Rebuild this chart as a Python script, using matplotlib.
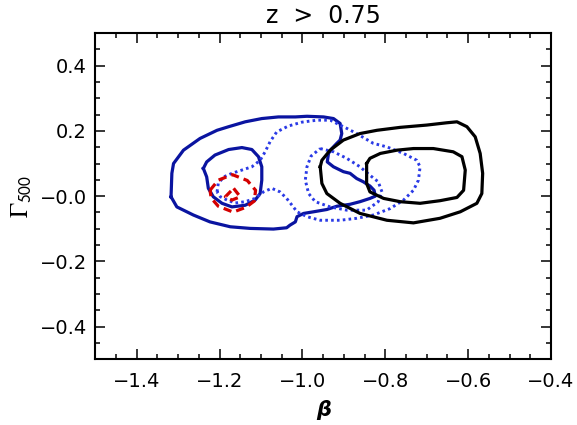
import matplotlib
matplotlib.use('Agg')
import matplotlib.pyplot as plt
from matplotlib.ticker import MultipleLocator, FixedLocator, FixedFormatter

plt.rcParams['font.family'] = ['DejaVu Sans']
plt.rcParams['mathtext.fontset'] = 'stix'

# contour vertices (beta, Gamma_500)
blue_outer_x = [-1.317, -1.315, -1.311, -1.287, -1.247, -1.206, -1.178, -1.138, -1.098, -1.058, -1.017, -0.989,
                -0.949, -0.925, -0.909, -0.905, -0.909, -0.917, -0.929, -0.937, -0.940, -0.925, -0.901, -0.885,
                -0.869, -0.853, -0.837, -0.827, -0.824, -0.837, -0.861, -0.885, -0.917, -0.941, -0.973, -0.997,
                -1.013, -1.017, -1.030, -1.038, -1.070, -1.126, -1.174, -1.223, -1.263, -1.303]
blue_outer_y = [-0.002, 0.070, 0.100, 0.141, 0.177, 0.202, 0.213, 0.228, 0.238, 0.243, 0.243, 0.245,
                0.243, 0.238, 0.223, 0.192, 0.172, 0.162, 0.146, 0.131, 0.105, 0.090, 0.075, 0.070,
                0.054, 0.044, 0.031, 0.018, 0.000, -0.007, -0.017, -0.025, -0.031, -0.041, -0.048, -0.053,
                -0.063, -0.079, -0.089, -0.097, -0.101, -0.099, -0.094, -0.079, -0.058, -0.033]

blue_inner_x = [-1.239, -1.231, -1.211, -1.178, -1.146, -1.122, -1.106, -1.098, -1.098, -1.102, -1.114,
                -1.138, -1.170, -1.194, -1.215, -1.227, -1.231]
blue_inner_y = [0.085, 0.105, 0.126, 0.143, 0.149, 0.143, 0.121, 0.090, 0.049, 0.008, -0.012,
                -0.028, -0.033, -0.022, -0.002, 0.024, 0.059]

dot_outer_x = [-1.206, -1.203, -1.190, -1.170, -1.146, -1.122, -1.102, -1.090, -1.078, -1.062, -1.034, -1.001,
               -0.965, -0.933, -0.909, -0.893, -0.869, -0.829, -0.796, -0.756, -0.724, -0.716, -0.720, -0.732,
               -0.756, -0.788, -0.829, -0.869, -0.909, -0.957, -0.989, -1.013, -1.025, -1.038, -1.054, -1.074,
               -1.094, -1.114, -1.138, -1.162, -1.182, -1.198]
dot_outer_y = [0.013, 0.039, 0.059, 0.070, 0.080, 0.090, 0.110, 0.136, 0.167, 0.197, 0.215, 0.227,
               0.233, 0.233, 0.218, 0.208, 0.192, 0.162, 0.151, 0.131, 0.110, 0.090, 0.049, 0.018,
               -0.012, -0.038, -0.058, -0.068, -0.074, -0.074, -0.063, -0.048, -0.028, -0.007, 0.013, 0.024,
               0.013, -0.007, -0.017, -0.021, -0.012, -0.002]

dot_inner_x = [-0.957, -0.925, -0.893, -0.861, -0.837, -0.817, -0.808, -0.817, -0.845, -0.893, -0.933,
               -0.969, -0.985, -0.993, -0.989, -0.979]
dot_inner_y = [0.146, 0.136, 0.116, 0.090, 0.064, 0.044, 0.013, -0.017, -0.043, -0.043, -0.033,
               -0.017, 0.008, 0.049, 0.090, 0.123]

black_outer_x = [-0.957, -0.953, -0.941, -0.909, -0.861, -0.796, -0.732, -0.668, -0.619, -0.579, -0.567, -0.565,
                 -0.571, -0.583, -0.603, -0.627, -0.652, -0.700, -0.764, -0.820, -0.861, -0.901, -0.933, -0.953]
black_outer_y = [0.090, 0.039, 0.008, -0.022, -0.053, -0.074, -0.082, -0.068, -0.048, -0.022, 0.008, 0.070,
                 0.131, 0.182, 0.213, 0.228, 0.225, 0.218, 0.211, 0.202, 0.192, 0.172, 0.141, 0.110]

black_inner_x = [-0.845, -0.845, -0.837, -0.804, -0.764, -0.716, -0.668, -0.627, -0.611, -0.607, -0.615,
                 -0.636, -0.684, -0.732, -0.772, -0.812, -0.837]
black_inner_y = [0.100, 0.039, 0.013, -0.007, -0.017, -0.022, -0.014, -0.004, 0.018, 0.080, 0.121,
                 0.136, 0.146, 0.146, 0.141, 0.131, 0.116]

red_outer_x = [-1.223, -1.203, -1.169, -1.133, -1.113, -1.116, -1.136, -1.167, -1.203, -1.220]
red_outer_y = [0.018, 0.049, 0.066, 0.048, 0.018, -0.015, -0.034, -0.049, -0.031, -0.006]

red_inner_x = [-1.166, -1.150, -1.170, -1.186]
red_inner_y = [0.024, -0.002, -0.012, -0.002]

x_ticks = [-1.4, -1.2, -1.0, -0.8, -0.6, -0.4]
x_ticklabels = ['\u22121.4', '\u22121.2', '\u22121.0', '\u22120.8', '\u22120.6', '\u22120.4']
y_ticks = [0.4, 0.2, 0.0, -0.2, -0.4]
y_ticklabels = ['0.4', '0.2', '\u22120.0', '\u22120.2', '\u22120.4']


def closed(xs, ys):
    return xs + xs[:1], ys + ys[:1]


fig = plt.figure(figsize=(5.77, 4.25), dpi=100)
ax = fig.add_axes([0.165, 0.155, 0.790, 0.767])

navy = '#0a14a0'
blue = '#2a3ae6'
red = '#d40000'

ax.plot(*closed(blue_outer_x, blue_outer_y), color=navy, lw=2.3)
ax.plot(*closed(blue_inner_x, blue_inner_y), color=navy, lw=2.3)
ax.plot(*closed(dot_outer_x, dot_outer_y), color=blue, lw=2.1, linestyle=(0, (0.9, 1.1)))
ax.plot(*closed(dot_inner_x, dot_inner_y), color=blue, lw=2.1, linestyle=(0, (0.9, 1.1)))
ax.plot(*closed(black_outer_x, black_outer_y), color='black', lw=2.3)
ax.plot(*closed(black_inner_x, black_inner_y), color='black', lw=2.3)
ax.plot(*closed(red_outer_x, red_outer_y), color=red, lw=2.3, linestyle=(0, (2.6, 1.6)))
ax.plot(*closed(red_inner_x, red_inner_y), color=red, lw=2.3, linestyle=(0, (2.6, 1.6)))

ax.set_xlim(-1.5, -0.4)
ax.set_ylim(-0.5, 0.5)

ax.xaxis.set_major_locator(FixedLocator(x_ticks))
ax.xaxis.set_major_formatter(FixedFormatter(x_ticklabels))
ax.yaxis.set_major_locator(FixedLocator(y_ticks))
ax.yaxis.set_major_formatter(FixedFormatter(y_ticklabels))
ax.xaxis.set_minor_locator(MultipleLocator(0.05))
ax.yaxis.set_minor_locator(MultipleLocator(0.05))
ax.tick_params(which='both', direction='in', top=True, right=True, width=1.1, labelsize=14)
ax.tick_params(which='major', length=7)
ax.tick_params(which='minor', length=3.5)
ax.tick_params(axis='x', which='major', pad=9)
ax.tick_params(axis='y', which='major', pad=6)
for s in ax.spines.values():
    s.set_linewidth(1.5)

fig.text(0.561, 0.962, 'z  >  0.75', ha='center', va='center', fontsize=17)
fig.text(0.561, 0.035, '\u03b2', ha='center', va='center', fontsize=15,
         fontweight='bold', fontstyle='italic')
fig.text(0.038, 0.537, r'$\Gamma_{\mathsf{500}}$', ha='center', va='center', fontsize=18, rotation=90)

fig.savefig('out.png', dpi=100)
